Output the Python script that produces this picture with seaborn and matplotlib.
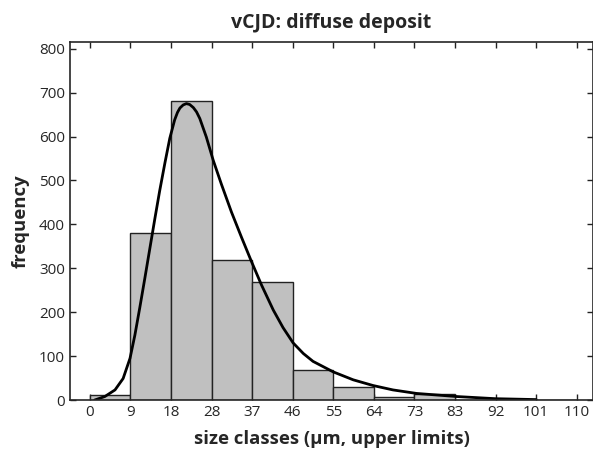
import matplotlib.pyplot as plt
import numpy as np
import pandas as pd
import seaborn as sns

# size classes (upper limits, µm) and counts per class
class_limits = ["0", "9", "18", "28", "37", "46", "55", "64", "73", "83", "92", "101", "110"]
counts = [11, 381, 682, 318, 269, 68, 29, 6, 14, 0, 0, 0]

# fitted curve (x in class units)
curve_x = [0.12, 0.37, 0.62, 0.82, 0.99, 1.11, 1.23, 1.36, 1.48, 1.60, 1.72, 1.85,
           1.97, 2.09, 2.16, 2.22, 2.30, 2.38, 2.46, 2.55, 2.63, 2.71, 2.87, 3.04,
           3.24, 3.49, 3.74, 3.98, 4.23, 4.52, 4.76, 5.01, 5.26, 5.5, 6.0, 6.49,
           6.98, 7.47, 8.05, 9.03, 10.0, 11.0]
curve_y = [0, 8, 23, 49, 95, 148, 210, 280, 346, 412, 476, 540,
           596, 638, 655, 665, 672, 675, 673, 666, 656, 641, 599, 546,
           492, 428, 370, 316, 262, 205, 165, 130, 106, 88, 64, 46,
           33, 23, 15, 8, 3, 1]

df = pd.DataFrame({"cls": np.arange(len(counts)) + 0.5, "n": counts})

sns.set_style("ticks")
plt.rcParams["font.family"] = ["Open Sans", "DejaVu Sans"]

fig = plt.figure(figsize=(5.93, 4.58), dpi=100)
ax = fig.add_axes([0.118, 0.1266, 0.882, 0.7814])

sns.histplot(data=df, x="cls", weights="n", bins=list(range(len(counts) + 1)),
             color="#c0c0c0", edgecolor="#222222", linewidth=1.0, alpha=1, ax=ax)
sns.lineplot(x=curve_x, y=curve_y, color="black", linewidth=2, ax=ax)

ax.set_xlim(-0.49, 12.4)
ax.set_ylim(0, 815)
ax.set_xticks(range(len(class_limits)))
ax.set_xticklabels(class_limits)
ax.set_yticks(range(0, 801, 100))
ax.tick_params(direction="in", top=True, right=True, length=4, width=1,
               labelsize=11, color="#222222")
for s in ax.spines.values():
    s.set_linewidth(1.2)
    s.set_visible(True)

ax.set_xlabel("size classes (µm, upper limits)", fontsize=13.3, fontweight="bold", labelpad=7)
ax.set_ylabel("frequency", fontsize=13.3, fontweight="bold", labelpad=7)
ax.set_title("vCJD: diffuse deposit", fontsize=14, fontweight="bold", pad=10)

fig.savefig("out.png", dpi=100)
